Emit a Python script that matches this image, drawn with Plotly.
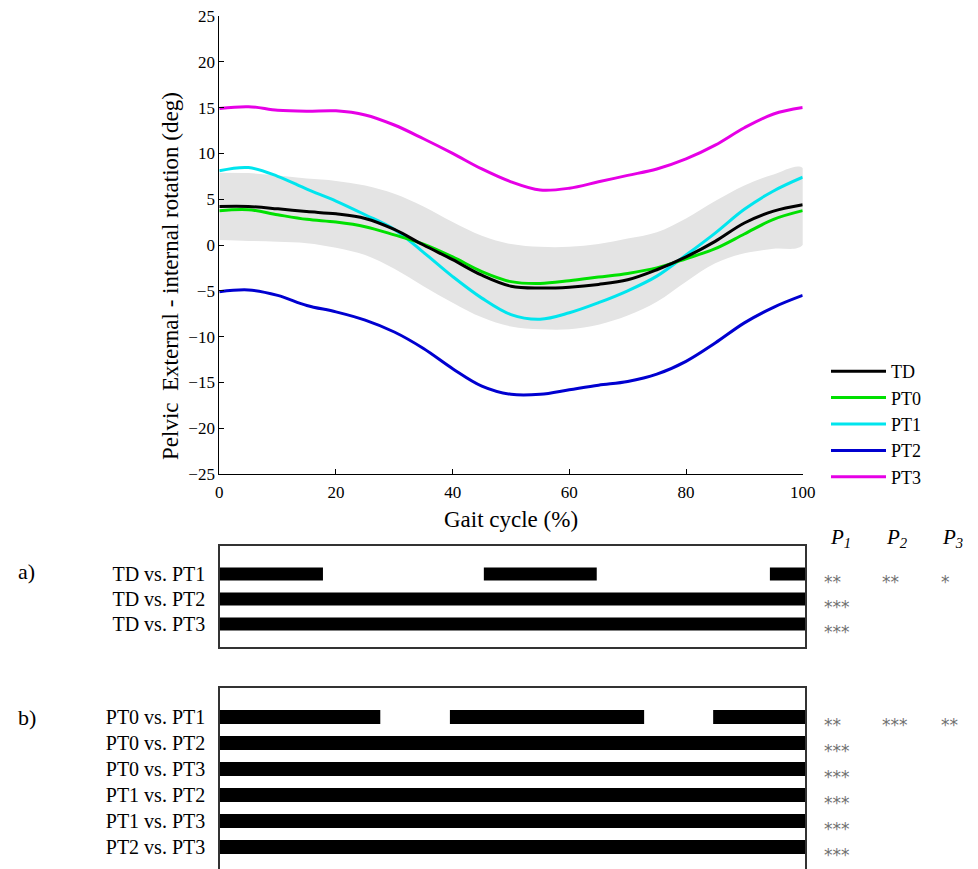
import plotly.graph_objects as go

W, H = 978, 869
OFF = 8  # browser default page margin

# ---------------- data ----------------
gait = [0, 5, 10, 15, 20, 25, 30, 35, 40, 45, 50, 55, 60, 65, 70, 75, 80, 85, 90, 95, 100]
td = [4.2, 4.2, 3.95, 3.65, 3.4, 2.9, 1.7, 0.0, -1.6, -3.3, -4.5, -4.7, -4.6, -4.3, -3.8, -2.7, -1.3, 0.4, 2.4, 3.7, 4.4]
pt0 = [3.75, 3.85, 3.3, 2.8, 2.5, 2.0, 1.1, 0.1, -1.3, -2.9, -4.0, -4.2, -3.9, -3.5, -3.1, -2.5, -1.5, -0.4, 1.2, 2.8, 3.75]
pt1 = [8.1, 8.45, 7.5, 6.1, 4.8, 3.3, 1.7, -0.8, -3.45, -5.8, -7.6, -8.1, -7.4, -6.3, -5.0, -3.4, -1.1, 1.3, 3.9, 5.9, 7.4]
pt2 = [-5.1, -4.9, -5.5, -6.6, -7.3, -8.2, -9.5, -11.3, -13.5, -15.4, -16.3, -16.3, -15.8, -15.3, -14.9, -14.1, -12.7, -10.7, -8.5, -6.8, -5.5]
pt3 = [14.9, 15.1, 14.7, 14.6, 14.65, 14.2, 13.1, 11.6, 10.0, 8.3, 6.9, 6.0, 6.2, 6.9, 7.6, 8.3, 9.4, 10.9, 12.8, 14.3, 15.0]
td_upper = [7.9, 7.85, 7.6, 7.25, 7.0, 6.5, 5.6, 4.2, 2.5, 1.0, 0.1, -0.2, -0.2, 0.1, 0.7, 1.4, 2.9, 4.8, 6.5, 7.7, 8.4]
td_lower = [0.55, 0.45, 0.35, 0.2, -0.3, -1.1, -2.6, -4.5, -6.3, -7.9, -8.9, -9.2, -9.2, -8.7, -7.7, -6.2, -4.0, -2.0, -0.9, -0.4, 0.0]

series_names = ["TD", "PT0", "PT1", "PT2", "PT3"]
series_values = [td, pt0, pt1, pt2, pt3]
series_colors = ["#000000", "#00e000", "#00e5ee", "#0000d0", "#e600e6"]

x_ticks = [0, 20, 40, 60, 80, 100]
y_ticks = [-25, -20, -15, -10, -5, 0, 5, 10, 15, 20, 25]

# significance panels: rows, segments (start, end) in % gait cycle
a_rows = ["TD vs. PT1", "TD vs. PT2", "TD vs. PT3"]
a_starts = [[0, 45.1, 94.0], [0], [0]]
a_ends = [[17.6, 64.4, 100], [100], [100]]
a_p1 = ["**", "***", "***"]
a_p2 = ["**", "", ""]
a_p3 = ["*", "", ""]

b_rows = ["PT0 vs. PT1", "PT0 vs. PT2", "PT0 vs. PT3", "PT1 vs. PT2", "PT1 vs. PT3", "PT2 vs. PT3"]
b_starts = [[0, 39.3, 84.3], [0], [0], [0], [0], [0]]
b_ends = [[27.4, 72.5, 100], [100], [100], [100], [100], [100]]
b_p1 = ["**", "***", "***", "***", "***", "***"]
b_p2 = ["***", "", "", "", "", ""]
b_p3 = ["**", "", "", "", "", ""]

# ---------------- figure ----------------
SERIF = "Liberation Serif"
fig = go.Figure()

# grey band (TD mean +/- SD)
fig.add_trace(go.Scatter(
    x=gait + gait[::-1], y=td_upper + td_lower[::-1],
    fill="toself", fillcolor="#e4e4e4", line=dict(width=0, shape="spline"),
    mode="lines", showlegend=False, hoverinfo="skip", xaxis="x", yaxis="y"))

order = [4, 3, 2, 1, 0]
for i in order:
    fig.add_trace(go.Scatter(
        x=gait, y=series_values[i], name=series_names[i], mode="lines",
        line=dict(color=series_colors[i], width=3, shape="spline", smoothing=1.0),
        xaxis="x", yaxis="y", legendrank=i + 1))

def seg_bars(starts, ends, xa, ya, width):
    ys, bases, lens = [], [], []
    for r, (ss, ee) in enumerate(zip(starts, ends)):
        for s, e in zip(ss, ee):
            ys.append(r + 1)
            bases.append(s)
            lens.append(e - s)
    return go.Bar(x=lens, base=bases, y=ys, orientation="h", width=width,
                  marker=dict(color="#000000", line=dict(width=0)),
                  showlegend=False, xaxis=xa, yaxis=ya, hoverinfo="skip")

fig.add_trace(seg_bars(a_starts, a_ends, "x2", "y2", 0.52))
fig.add_trace(seg_bars(b_starts, b_ends, "x3", "y3", 0.54))

def px_x(p):
    return (p - OFF) / W

def px_y(p):
    return 1 - (p - OFF) / H

axis_font = dict(family=SERIF, size=17, color="#000")

fig.update_layout(
    width=W, height=H,
    margin=dict(l=0, r=0, t=0, b=0, pad=0, autoexpand=False),
    paper_bgcolor="white", plot_bgcolor="white",
    font=dict(family=SERIF, color="#000"),
    barmode="overlay",
    showlegend=True,
    legend=dict(x=px_x(826), y=px_y(353), xanchor="left", yanchor="top",
                font=dict(family=SERIF, size=18, color="#000"),
                bgcolor="rgba(0,0,0,0)", borderwidth=0, tracegroupgap=0,
                itemwidth=55),
    xaxis=dict(domain=[px_x(219.3), px_x(802.7)], range=[0, 100], tickvals=x_ticks,
               ticks="inside", ticklen=5, tickcolor="#000", showline=True, linecolor="#000",
               linewidth=1, showgrid=False, zeroline=False, tickfont=axis_font,
               ticklabelstandoff=3, ticklabeloverflow="allow",
               title=dict(text="Gait cycle (%)", font=dict(family=SERIF, size=23), standoff=9),
               anchor="y", automargin=False),
    yaxis=dict(domain=[px_y(474), px_y(16)], range=[-25, 25], tickvals=y_ticks,
               ticks="inside", ticklen=5, tickcolor="#000", showline=True, linecolor="#000",
               linewidth=1, showgrid=False, zeroline=False, tickfont=axis_font, anchor="x",
               ticklabeloverflow="allow", automargin=False),
    xaxis2=dict(domain=[px_x(220), px_x(805)], range=[0, 100], showticklabels=False,
                ticks="", showline=True, mirror=True, linecolor="#333", linewidth=1.5,
                showgrid=False, zeroline=False, anchor="y2", automargin=False),
    yaxis2=dict(domain=[px_y(647), px_y(546)], range=[3.92, -0.12],
                tickvals=[1, 2, 3], ticktext=a_rows, ticks="", showline=True, mirror=True,
                linecolor="#333", linewidth=1.5, showgrid=False, zeroline=False,
                tickfont=dict(family=SERIF, size=20, color="#000"), ticklabelstandoff=9,
                ticklabeloverflow="allow", anchor="x2", automargin=False),
    xaxis3=dict(domain=[px_x(220), px_x(805)], range=[0, 100], showticklabels=False,
                ticks="", showline=True, side="top", linecolor="#333", linewidth=1.5,
                showgrid=False, zeroline=False, anchor="y3", automargin=False),
    yaxis3=dict(domain=[0, px_y(688)], range=[7.15, -0.115],
                tickvals=[1, 2, 3, 4, 5, 6], ticktext=b_rows, ticks="", showline=True,
                mirror=True, linecolor="#333", linewidth=1.5, showgrid=False, zeroline=False,
                tickfont=dict(family=SERIF, size=20, color="#000"), ticklabelstandoff=9,
                ticklabeloverflow="allow", anchor="x3", automargin=False),
)

ann = []
# y-axis title
ann.append(dict(text="Pelvic\u00a0\u00a0External - internal rotation (deg)", textangle=-90,
                x=px_x(170), y=px_y(276), xref="paper", yref="paper", showarrow=False,
                xanchor="center", yanchor="middle",
                font=dict(family=SERIF, size=23, color="#000")))
# panel letters
ann.append(dict(text="a)", x=px_x(16), y=px_y(571), xref="paper", yref="paper",
                xanchor="left", yanchor="middle", showarrow=False,
                font=dict(family=SERIF, size=22, color="#000")))
ann.append(dict(text="b)", x=px_x(16), y=px_y(717), xref="paper", yref="paper",
                xanchor="left", yanchor="middle", showarrow=False,
                font=dict(family=SERIF, size=22, color="#000")))
# P headers
for lbl, cx in zip(["1", "2", "3"], [840, 897, 952]):
    ann.append(dict(text="<i>P</i><sub><i>" + lbl + "</i></sub>", x=px_x(cx), y=px_y(538),
                    xref="paper", yref="paper", xanchor="center", yanchor="middle",
                    showarrow=False, font=dict(family=SERIF, size=21, color="#000")))
# stars
star_font = dict(family="DejaVu Sans", size=17, color="#707070")
for rows_p, yref in [((a_p1, a_p2, a_p3), "y2"), ((b_p1, b_p2, b_p3), "y3")]:
    for col, lx in zip(rows_p, [822, 880, 939]):
        for r, s in enumerate(col):
            if s:
                ann.append(dict(text=s, x=px_x(lx), y=r + 1, xref="paper", yref=yref,
                                xanchor="left", yanchor="middle", yshift=-8,
                                showarrow=False, font=star_font))
fig.update_layout(annotations=ann)

fig.write_html("out.html")
